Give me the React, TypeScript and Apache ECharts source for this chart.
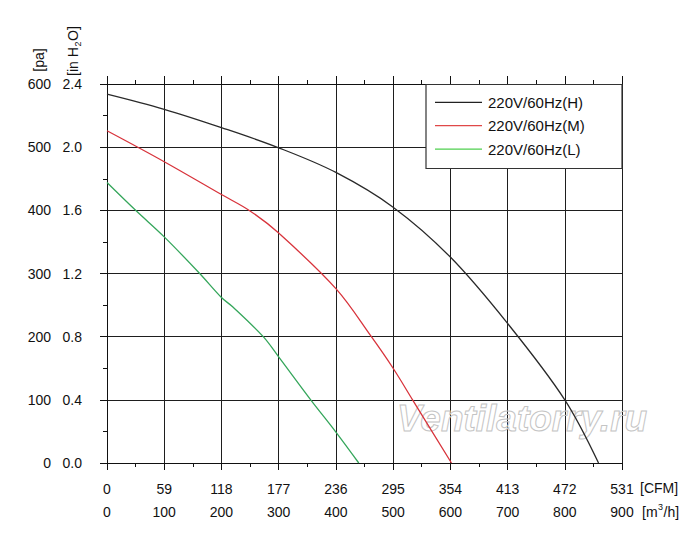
import React, { useEffect, useRef } from "react";
import * as echarts from "echarts";

const seriesNames = ["220V/60Hz(H)", "220V/60Hz(M)", "220V/60Hz(L)"];

const flowH = [0, 100, 200, 300, 400, 500, 600, 700, 800, 859];
const pressH = [584, 560, 531, 499, 460, 405, 326, 221, 100, 0];

const flowM = [0, 100, 200, 250, 300, 400, 462, 500, 534, 602];
const pressM = [526, 477, 425, 399, 364, 276, 200, 150, 100, 0];

const flowL = [0, 50, 100, 162, 200, 220, 273, 300, 356, 400, 440];
const pressL = [444, 400, 358, 300, 262, 247, 200, 168, 100, 49, 0];

const flowTicks = [0, 100, 200, 300, 400, 500, 600, 700, 800, 900];
const cfmTicks = [0, 59, 118, 177, 236, 295, 354, 413, 472, 531];
const paTicks = [0, 100, 200, 300, 400, 500, 600];
const inH2OTicks = ["0.0", "0.4", "0.8", "1.2", "1.6", "2.0", "2.4"];

const lineColors = ["#2a2a2a", "#d8343c", "#35a65b"];
const legendColors = ["#222222", "#e04848", "#4fcf4f"];

const FONT = "'Liberation Sans', Arial, Helvetica, sans-serif";
const TXT = "#111111";
const GRIDC = "#1e1e1e";

function zip(xs: number[], ys: number[]) {
  return xs.map((x, i) => [x, ys[i]]);
}

export default function App() {
  const ref = useRef<HTMLDivElement>(null);

  useEffect(() => {
    if (!ref.current) return;
    const chart = echarts.init(ref.current, undefined, { renderer: "svg" });

    const flowStep = flowTicks[1] - flowTicks[0];
    const paStep = paTicks[1] - paTicks[0];
    const inStep = 2.4 / (inH2OTicks.length - 1);

    const seriesData = [zip(flowH, pressH), zip(flowM, pressM), zip(flowL, pressL)];

    const axisLineStyle = { color: "#111", width: 1 };

    const legendItems: any[] = [
      {
        type: "rect",
        z: 100,
        shape: { x: 426, y: 84.5, width: 196, height: 84 },
        style: { fill: "#ffffff", stroke: "#333333", lineWidth: 1.2 },
      },
    ];
    seriesNames.forEach((name, i) => {
      const cy = 102.3 + i * 23.4;
      legendItems.push({
        type: "line",
        z: 101,
        shape: { x1: 435, y1: cy, x2: 482, y2: cy },
        style: { stroke: legendColors[i], lineWidth: 1.2 },
      });
      legendItems.push({
        type: "text",
        z: 101,
        x: 488,
        y: cy,
        style: {
          text: name,
          fontFamily: FONT,
          fontSize: 15,
          fill: TXT,
          align: "left",
          verticalAlign: "middle",
        },
      });
    });

    const option: any = {
      animation: false,
      backgroundColor: "#ffffff",
      grid: { left: 107, right: 78, top: 84, bottom: 77, containLabel: false },
      xAxis: [
        {
          type: "value",
          position: "bottom",
          min: flowTicks[0],
          max: flowTicks[flowTicks.length - 1],
          interval: flowStep,
          axisLine: { show: true, onZero: false, lineStyle: axisLineStyle },
          axisTick: { show: true, length: 7, lineStyle: axisLineStyle },
          minorTick: { show: true, splitNumber: 2, length: 4, lineStyle: axisLineStyle },
          splitLine: { show: true, lineStyle: { color: GRIDC, width: 1 } },
          minorSplitLine: { show: false },
          axisLabel: {
            margin: 14,
            fontSize: 14,
            fontFamily: FONT,
            color: TXT,
            lineHeight: 23,
            formatter: (v: number) => {
              const i = Math.round(v / flowStep);
              return cfmTicks[i] + "\n" + flowTicks[i];
            },
          },
        },
        {
          type: "value",
          position: "top",
          min: flowTicks[0],
          max: flowTicks[flowTicks.length - 1],
          interval: flowStep,
          axisLine: { show: true, onZero: false, lineStyle: axisLineStyle },
          axisTick: { show: true, length: 8, lineStyle: axisLineStyle },
          minorTick: { show: true, splitNumber: 2, length: 4, lineStyle: axisLineStyle },
          splitLine: { show: false },
          axisLabel: { show: false },
        },
      ],
      yAxis: [
        {
          type: "value",
          position: "left",
          min: paTicks[0],
          max: paTicks[paTicks.length - 1],
          interval: paStep,
          axisLine: { show: true, onZero: false, lineStyle: axisLineStyle },
          axisTick: { show: true, length: 7, lineStyle: axisLineStyle },
          minorTick: { show: true, splitNumber: 2, length: 4, lineStyle: axisLineStyle },
          splitLine: { show: true, lineStyle: { color: GRIDC, width: 1 } },
          axisLabel: {
            margin: 56,
            fontSize: 14,
            fontFamily: FONT,
            color: TXT,
            formatter: (v: number) => String(paTicks[Math.round(v / paStep)]),
          },
        },
        {
          type: "value",
          position: "left",
          offset: 0,
          min: 0,
          max: 2.4,
          interval: inStep,
          axisLine: { show: false },
          axisTick: { show: false },
          splitLine: { show: false },
          axisLabel: {
            margin: 25,
            fontSize: 14,
            fontFamily: FONT,
            color: TXT,
            formatter: (v: number) => inH2OTicks[Math.round(v / inStep)],
          },
        },
      ],
      series: seriesNames.map((name, i) => ({
        name,
        type: "line",
        xAxisIndex: 0,
        yAxisIndex: 0,
        data: seriesData[i],
        showSymbol: false,
        symbol: "none",
        smooth: 0.35,
        lineStyle: { color: lineColors[i], width: 1.3 },
        z: 5,
      })),
      graphic: [
        {
          type: "text",
          z: 1,
          x: 397,
          y: 418,
          silent: true,
          style: {
            text: "Ventilatorry.ru",
            fontFamily: FONT,
            fontSize: 37,
            fontWeight: "bold",
            fontStyle: "italic",
            fill: "none",
            stroke: "#c4c4c4",
            lineWidth: 1,
            verticalAlign: "middle",
            align: "left",
          },
        },
        {
          type: "text",
          x: 38.5,
          y: 60,
          rotation: Math.PI / 2,
          style: {
            text: "[pa]",
            fontFamily: FONT,
            fontSize: 14,
            fill: TXT,
            align: "center",
            verticalAlign: "middle",
          },
        },
        {
          type: "group",
          x: 72.5,
          y: 76,
          rotation: Math.PI / 2,
          children: [
            {
              type: "text",
              x: 0,
              y: 0,
              style: { text: "[in H", fontFamily: FONT, fontSize: 14, fill: TXT, align: "left", verticalAlign: "middle" },
            },
            {
              type: "text",
              x: 29.5,
              y: 5,
              style: { text: "2", fontFamily: FONT, fontSize: 9, fill: TXT, align: "left", verticalAlign: "middle" },
            },
            {
              type: "text",
              x: 35,
              y: 0,
              style: { text: "O]", fontFamily: FONT, fontSize: 14, fill: TXT, align: "left", verticalAlign: "middle" },
            },
          ],
        },
        {
          type: "text",
          x: 640,
          y: 488,
          style: { text: "[CFM]", fontFamily: FONT, fontSize: 14, fill: TXT, align: "left", verticalAlign: "middle" },
        },
        {
          type: "group",
          x: 642,
          y: 512,
          children: [
            {
              type: "text",
              x: 0,
              y: 0,
              style: { text: "[m", fontFamily: FONT, fontSize: 14, fill: TXT, align: "left", verticalAlign: "middle" },
            },
            {
              type: "text",
              x: 16,
              y: -5,
              style: { text: "3", fontFamily: FONT, fontSize: 9, fill: TXT, align: "left", verticalAlign: "middle" },
            },
            {
              type: "text",
              x: 21.5,
              y: 0,
              style: { text: "/h]", fontFamily: FONT, fontSize: 14, fill: TXT, align: "left", verticalAlign: "middle" },
            },
          ],
        },
        ...legendItems,
      ],
    };

    chart.setOption(option);
    return () => chart.dispose();
  }, []);

  return (
    <div
      ref={ref}
      style={{ position: "absolute", left: 0, top: 0, width: 700, height: 540, background: "#fff" }}
    />
  );
}
